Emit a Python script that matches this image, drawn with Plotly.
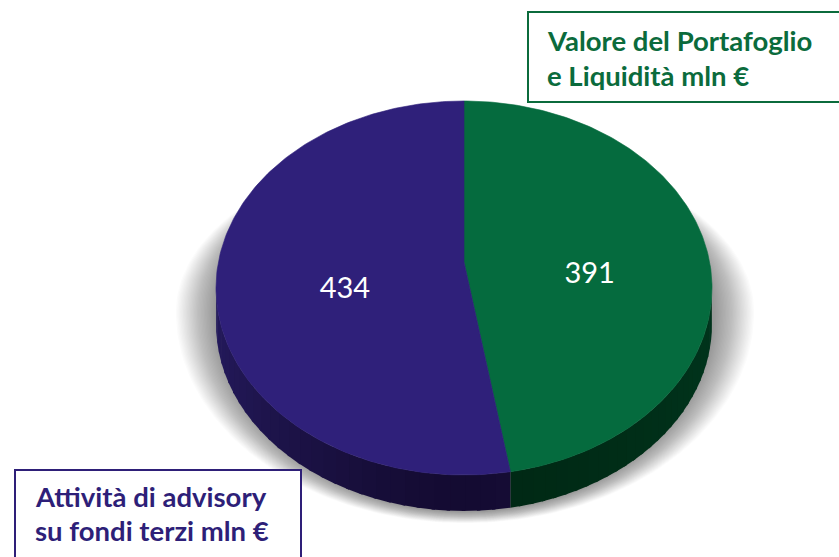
import numpy as np
import plotly.graph_objects as go

# ---- data ----
categories = ["Valore del Portafoglio e Liquidità mln €", "Attività di advisory su fondi terzi mln €"]
values = [391, 434]
value_labels = ["391", "434"]
box_lines_1 = ["Valore del Portafoglio", "e Liquidità mln €"]
box_lines_2 = ["Attività di advisory", "su fondi terzi mln €"]

top_colors = [(5, 107, 62), (47, 32, 122)]
side_light = [(0, 52, 28), (36, 26, 92)]
side_dark = [(0, 40, 20), (20, 11, 50)]
text_colors = ["#0b6b3c", "#2e1f78"]

W, H = 839, 557
CX, CY0 = 464.0, 262.0     # projected centre of the top face
A, B, K = 245.6, 183.4, 0.139
DEPTH = 36.0


def proj(theta, r=1.0, dz=0.0):
    X = r * np.sin(theta)
    Y = r * np.cos(theta)
    w = 1 + K * Y
    return CX + A * X / w, CY0 - B * Y / w + dz


def rgb(c):
    return "rgb(%d,%d,%d)" % tuple(int(round(v)) for v in c)


fig = go.Figure()

# ---- soft shadow ----
t = np.linspace(0, 2 * np.pi, 240)
for s in range(28, -1, -1):
    rx = 250 + s * 1.4
    ry_bot = 200 + s * 0.4
    ry_top = 165
    sx = 465 + rx * np.sin(t)
    sy = 312 + np.where(np.cos(t) > 0, ry_bot, ry_top) * np.cos(t)
    fig.add_trace(go.Scatter(x=sx, y=sy, fill="toself", mode="lines",
                             line=dict(width=0), fillcolor="rgba(0,0,0,0.014)",
                             hoverinfo="skip", showlegend=False))

# ---- slice angles ----
total = float(sum(values))
bounds = [0.0]
for v in values:
    bounds.append(bounds[-1] + 2 * np.pi * v / total)

vis_a = np.arccos(-K)
vis_b = 2 * np.pi - vis_a

# ---- side walls ----
for i in range(len(values)):
    a0 = max(bounds[i], vis_a)
    a1 = min(bounds[i + 1], vis_b)
    if a1 <= a0:
        continue
    n = 30
    edges = np.linspace(a0, a1, n + 1)
    for j in range(n):
        e1 = edges[j + 1] + (0.012 if j < n - 1 else 0.0)
        th = np.linspace(edges[j], e1, 5)
        xt, yt = proj(th)
        xb, yb = proj(th[::-1], dz=DEPTH)
        mid = 0.5 * (edges[j] + edges[j + 1])
        f = abs(np.sin(mid)) ** 1.5
        col = [side_dark[i][c] + (side_light[i][c] - side_dark[i][c]) * f for c in range(3)]
        fig.add_trace(go.Scatter(x=np.r_[xt, xb], y=np.r_[yt, yb], fill="toself",
                                 mode="lines", line=dict(width=0),
                                 fillcolor=rgb(col), hoverinfo="skip", showlegend=False))

# ---- top faces ----
for i in range(len(values)):
    th = np.linspace(bounds[i], bounds[i + 1], 200)
    xa, ya = proj(th)
    fig.add_trace(go.Scatter(x=np.r_[CX, xa, CX], y=np.r_[CY0, ya, CY0], fill="toself",
                             mode="lines", line=dict(width=0.6, color=rgb(top_colors[i])),
                             fillcolor=rgb(top_colors[i]), name=categories[i],
                             hoverinfo="skip", showlegend=False))

# ---- value labels ----
lx, ly = [], []
for i in range(len(values)):
    mid = 0.5 * (bounds[i] + bounds[i + 1])
    x, y = proj(mid, r=0.5)
    lx.append(x + 4)
    ly.append(y + 21)
fig.add_trace(go.Scatter(x=lx, y=ly, mode="text", text=value_labels,
                         textfont=dict(family="Lato", size=29, color="white"),
                         hoverinfo="skip", showlegend=False))

# ---- text boxes ----
fig.add_shape(type="rect", x0=528, y0=12, x1=850, y1=102, xref="x", yref="y",
              line=dict(color=text_colors[0], width=2), fillcolor="white", layer="above")
fig.add_shape(type="rect", x0=15, y0=470, x1=301, y1=570, xref="x", yref="y",
              line=dict(color=text_colors[1], width=2), fillcolor="white", layer="above")

for k, line in enumerate(box_lines_1):
    fig.add_annotation(x=545, y=40 + 35 * k, text="<b>%s</b>" % line, showarrow=False,
                       xanchor="left", yanchor="middle", xref="x", yref="y",
                       font=dict(family="Lato", size=27.5, color=text_colors[0]))
for k, line in enumerate(box_lines_2):
    fig.add_annotation(x=33, y=496 + 34 * k, text="<b>%s</b>" % line, showarrow=False,
                       xanchor="left", yanchor="middle", xref="x", yref="y",
                       font=dict(family="Lato", size=27.5, color=text_colors[1]))

fig.update_layout(
    width=W, height=H, autosize=False,
    margin=dict(l=0, r=0, t=0, b=0),
    paper_bgcolor="white", plot_bgcolor="white",
    xaxis=dict(range=[0, W], visible=False, fixedrange=True),
    yaxis=dict(range=[H, 0], visible=False, fixedrange=True),
    showlegend=False,
)

fig.write_html("out.html", config={"displayModeBar": False},
               post_script="document.body.style.margin='0';document.body.style.padding='0';")
